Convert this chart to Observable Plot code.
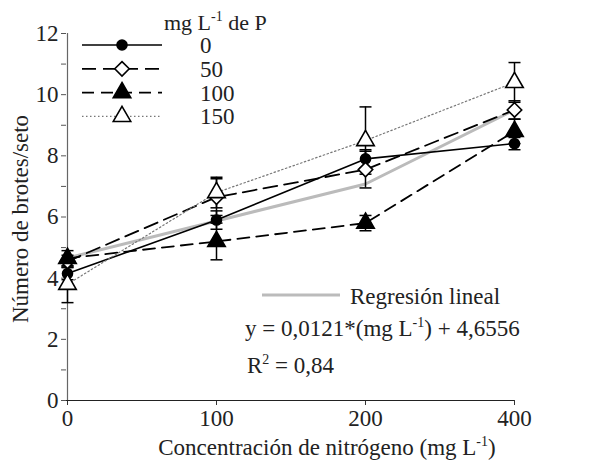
<!DOCTYPE html>
<html>
<head>
<meta charset="utf-8">
<script src="https://cdn.jsdelivr.net/npm/d3@7"></script>
<script src="https://cdn.jsdelivr.net/npm/@observablehq/plot@0.6"></script>
<style>
  html, body { margin: 0; padding: 0; background: #fff; }
  #chart { position: relative; width: 590px; height: 462px; }
  #chart svg, #chart svg text, #chart svg tspan { font-family: "Liberation Serif", "Times New Roman", "DejaVu Serif", serif !important; }
</style>
</head>
<body>
<div id="chart"></div>
<script>
// Nitrogen concentration categories (mg L-1)
const categories = ["0", "100", "200", "400"];
// Phosphorus series (mg L-1 de P)
const series = ["0", "50", "100", "150"];
// Mean shoots per clump for each series
const values0   = [4.15, 5.9, 7.9, 8.4];
const values50  = [4.55, 6.65, 7.55, 9.5];
const values100 = [4.65, 5.2, 5.8, 8.8];
const values150 = [3.8, 6.8, 8.5, 10.4];
// Error-bar half widths
const err0   = [0.2, 0.3, 0.3, 0.2];
const err50  = [0.2, 0.6, 0.6, 0.3];
const err100 = [0.25, 0.6, 0.25, 0.4];
const err150 = [0.6, 0.5, 1.1, 0.65];
// Linear regression values at each category
const regression = [4.66, 5.87, 7.08, 9.5];
const yTicks = [0, 1, 2, 3, 4, 5, 6, 7, 8, 9, 10, 11, 12];

const allValues = [values0, values50, values100, values150];
const allErrs = [err0, err50, err100, err150];
const rows = series.flatMap((s, i) => categories.map((c, j) => ({p: s, n: c, v: allValues[i][j], e: allErrs[i][j]})));
const regRows = categories.map((c, j) => ({n: c, v: regression[j]}));

const styles = {
  "0":   {stroke: "#000", dash: null, width: 1.6, symbol: "circle", fill: "#000", r: 5},
  "50":  {stroke: "#000", dash: "14,7", width: 1.8, symbol: "diamond2", fill: "#fff", r: 6.5},
  "100": {stroke: "#000", dash: "12,7", width: 1.8, symbol: "triangle", fill: "#000", r: 6.5},
  "150": {stroke: "#777", dash: "1.5,2.5", width: 1.2, symbol: "triangle", fill: "#fff", r: 6.5}
};

const capSymbol = { draw(ctx) { ctx.moveTo(-6, 0); ctx.lineTo(6, 0); } };
const FONT = "'Liberation Serif', 'Times New Roman', 'DejaVu Serif', serif";

const lineMarks = series.map(s => Plot.line(rows.filter(d => d.p === s), {
  x: "n", y: "v", stroke: styles[s].stroke, strokeWidth: styles[s].width,
  strokeDasharray: styles[s].dash
}));
const dotMarks = series.map(s => Plot.dot(rows.filter(d => d.p === s), {
  x: "n", y: "v", symbol: styles[s].symbol, r: styles[s].r,
  fill: styles[s].fill, stroke: "#000", strokeWidth: 1.6
}));

const plot = Plot.plot({
  width: 590, height: 462,
  marginLeft: 66, marginRight: 76, marginTop: 33, marginBottom: 62,
  x: {type: "point", domain: categories, padding: 0},
  y: {domain: [0, 12]},
  style: {fontFamily: FONT, fontSize: "23px", color: "#222", background: "#fff"},
  marks: [
    Plot.axisY({ticks: yTicks, tickFormat: d => d % 2 ? "" : String(d), tickSize: 5, tickPadding: 3, fontSize: 23, label: null, stroke: "#555"}),
    Plot.axisX({tickSize: 5, tickPadding: 4, fontSize: 23, label: null, stroke: "#333"}),
    Plot.ruleX([categories[0]], {stroke: "#666", strokeWidth: 1.2}),
    Plot.ruleY([0], {stroke: "#222", strokeWidth: 1.2}),
    Plot.line(regRows, {x: "n", y: "v", stroke: "#bbb", strokeWidth: 3}),
    ...lineMarks,
    Plot.ruleX(rows, {x: "n", y1: d => d.v - d.e, y2: d => d.v + d.e, stroke: "#000", strokeWidth: 1.5}),
    Plot.dot(rows, {x: "n", y: d => d.v + d.e, symbol: capSymbol, stroke: "#000", strokeWidth: 1.5, fill: "none"}),
    Plot.dot(rows, {x: "n", y: d => d.v - d.e, symbol: capSymbol, stroke: "#000", strokeWidth: 1.5, fill: "none"}),
    ...dotMarks
  ]
});

document.getElementById("chart").appendChild(plot);

// Extra text: axis titles, legend, regression annotation
const svg = d3.select(plot);
const g = svg.append("g").attr("fill", "#222").attr("font-size", 23).attr("text-anchor", "start");

function supText(parent, x, y, parts, anchor) {
  const t = parent.append("text").attr("x", x).attr("y", y).attr("text-anchor", anchor || "start");
  let shifted = false;
  parts.forEach(p => {
    if (p.sup) {
      t.append("tspan").attr("dy", -9).attr("font-size", 14).text(p.sup);
      shifted = true;
    } else {
      const ts = t.append("tspan").text(p.t);
      if (shifted) { ts.attr("dy", 9); shifted = false; }
    }
  });
  return t;
}

// x axis title
supText(g, 327, 455, [{t: "Concentración de nitrógeno (mg L"}, {sup: "-1"}, {t: ")"}], "middle");
// y axis title
g.append("text").attr("transform", "translate(28,219) rotate(-90)").attr("text-anchor", "middle").text("Número de brotes/seto");

// Legend
const lg = g.append("g");
supText(lg, 164, 30, [{t: "mg L"}, {sup: "-1"}, {t: " de P"}]).attr("font-size", 22);
series.forEach((s, i) => {
  const y = 45 + i * 23.8;
  const st = styles[s];
  lg.append("line").attr("x1", 82).attr("x2", 162).attr("y1", y).attr("y2", y)
    .attr("stroke", st.stroke).attr("stroke-width", st.width)
    .attr("stroke-dasharray", st.dash);
  const sym = {circle: d3.symbolCircle, diamond2: d3.symbolDiamond2, triangle: d3.symbolTriangle}[st.symbol];
  lg.append("path").attr("d", d3.symbol(sym, st.r * st.r * Math.PI)())
    .attr("transform", `translate(122,${y})`)
    .attr("fill", st.fill).attr("stroke", "#000").attr("stroke-width", 1.6);
  lg.append("text").attr("x", 200).attr("y", y + 8).text(s);
});

// Regression annotation
g.append("line").attr("x1", 262).attr("x2", 340).attr("y1", 295).attr("y2", 295)
  .attr("stroke", "#bbb").attr("stroke-width", 3);
g.append("text").attr("x", 350).attr("y", 304).text("Regresión lineal");
supText(g, 245, 336, [{t: "y = 0,0121*(mg L"}, {sup: "-1"}, {t: ") + 4,6556"}]);
supText(g, 247, 373, [{t: "R"}, {sup: "2"}, {t: " = 0,84"}]);
</script>
</body>
</html>
